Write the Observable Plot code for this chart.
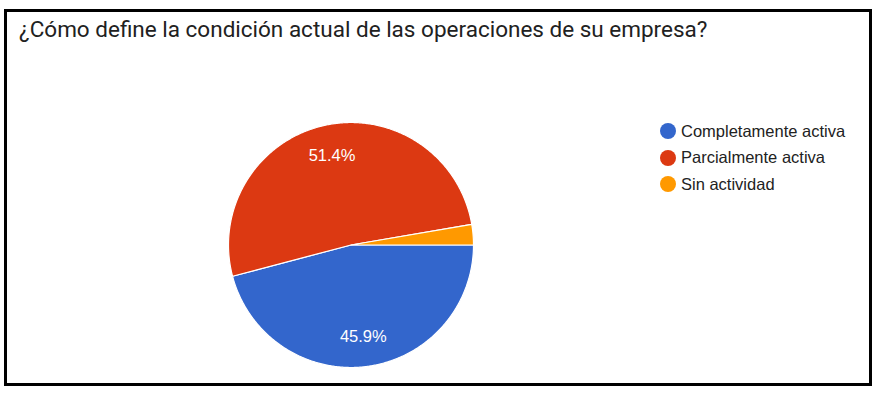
<!DOCTYPE html>
<html>
<head>
<meta charset="utf-8">
<script src="https://cdn.jsdelivr.net/npm/d3@7"></script>
<script src="https://cdn.jsdelivr.net/npm/@observablehq/plot@0.6"></script>
<style>
  html, body { margin: 0; padding: 0; background: #fff; }
  body { width: 877px; height: 393px; position: relative; overflow: hidden; }
  #frame {
    position: absolute; left: 4px; top: 9px; width: 868px; height: 377px;
    border: 3px solid #000; box-sizing: border-box; background: #fff;
  }
  #title {
    position: absolute; left: 12px; top: 4px;
    font-family: Roboto, "Noto Sans", sans-serif; font-size: 22.5px; color: #212121;
    white-space: nowrap; line-height: 26px;
  }
  #chart { position: absolute; left: 0; top: 40px; }
  #legend {
    position: absolute; left: 653px; top: 106px;
    font-family: Arial, "Liberation Sans", sans-serif; font-size: 16.5px; color: #222;
  }
  .row { display: flex; align-items: center; height: 26.5px; }
  .sw { width: 16px; height: 16px; border-radius: 50%; margin-right: 5px; flex: none; }
</style>
</head>
<body>
<div id="frame">
  <div id="title"></div>
  <div id="chart"></div>
  <div id="legend"></div>
</div>
<script>
const titleText = "¿Cómo define la condición actual de las operaciones de su empresa?";
const categories = ["Completamente activa", "Parcialmente activa", "Sin actividad"];
const values = [45.9, 51.4, 2.7];
const colors = ["#3366cc", "#dc3912", "#ff9900"];

document.getElementById("title").textContent = titleText;

// pie geometry (unit radius, y up), starting at 3 o'clock, clockwise
const pie = d3.pie().sort(null).value(d => d.value)
  .startAngle(Math.PI / 2).endAngle(Math.PI / 2 + 2 * Math.PI);
const data = categories.map((c, i) => ({category: c, value: values[i]}));
const arcs = pie(data);
const total = d3.sum(values);

const boundary = [];
for (const a of arcs) {
  const n = Math.max(2, Math.ceil((a.endAngle - a.startAngle) / (Math.PI / 360)));
  for (let k = 0; k <= n; k++) {
    const t = a.startAngle + (a.endAngle - a.startAngle) * k / n;
    boundary.push({category: a.data.category, x: Math.sin(t), y: Math.cos(t)});
  }
}
const labels = arcs
  .filter(a => a.data.value / total >= 0.05)
  .map(a => {
    const m = (a.startAngle + a.endAngle) / 2;
    return {x: 0.75 * Math.sin(m), y: 0.75 * Math.cos(m),
            text: (a.data.value).toFixed(1) + "%"};
  });

const W = 862, H = 331, R = 122.5, cx = 344, cy = 193;
const chart = Plot.plot({
  width: W, height: H, margin: 0,
  x: {domain: [-cx / R, (W - cx) / R], axis: null},
  y: {domain: [-(H - cy) / R, cy / R], axis: null},
  color: {domain: categories, range: colors},
  style: {background: "transparent", fontFamily: "Arial, 'Liberation Sans', sans-serif"},
  marks: [
    Plot.area(boundary, {x1: "x", y1: "y", x2: () => 0, y2: () => 0, z: "category",
      fill: "category", stroke: "#fff", strokeWidth: 1.2, curve: "linear"}),
    Plot.text(labels, {x: "x", y: "y", text: "text", fill: "#fff", fontSize: 16.5})
  ]
});
document.getElementById("chart").appendChild(chart);

const legend = document.getElementById("legend");
categories.forEach((c, i) => {
  const row = document.createElement("div");
  row.className = "row";
  const sw = document.createElement("span");
  sw.className = "sw";
  sw.style.background = colors[i];
  const tx = document.createElement("span");
  tx.textContent = c;
  row.appendChild(sw); row.appendChild(tx);
  legend.appendChild(row);
});
</script>
</body>
</html>
